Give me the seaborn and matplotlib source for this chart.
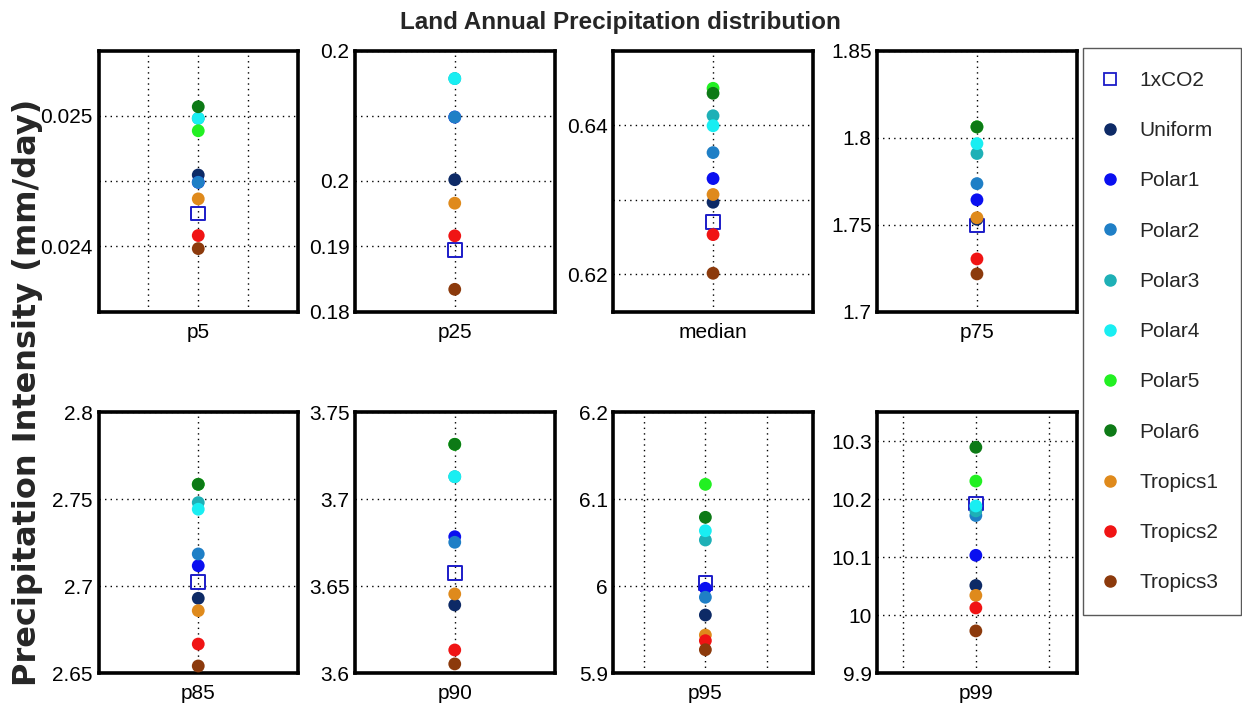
import numpy as np
import pandas as pd
import matplotlib.pyplot as plt
from matplotlib.lines import Line2D
import seaborn as sns

# data ------------------------------------------------
stats = ["p5", "p25", "median", "p75", "p85", "p90", "p95", "p99"]
scenarios = ["1xCO2", "Uniform", "Polar1", "Polar2", "Polar3", "Polar4",
             "Polar5", "Polar6", "Tropics1", "Tropics2", "Tropics3"]

co2      = [0.02425, 0.1894, 0.6270, 1.7495, 2.7026, 3.6575, 6.0038, 10.193]
uniform  = [0.024546, 0.2002, 0.62965, 1.7530, 2.6931, 3.6393, 5.967, 10.0514]
polar1   = [0.02449, 0.2098, 0.63283, 1.7642, 2.7118, 3.6785, 5.9977, 10.1034]
polar2   = [0.02449, 0.2098, 0.63631, 1.7735, 2.7186, 3.6753, 5.9874, 10.172]
polar3   = [0.02498, 0.2157, 0.64125, 1.7908, 2.7481, 3.7130, 6.0532, 10.180]
polar4   = [0.02498, 0.2157, 0.63991, 1.7965, 2.7443, 3.7130, 6.0639, 10.1885]
polar5   = [0.024885, 0.2260, 0.64493, 1.8061, 2.7586, 3.7316, 6.1172, 10.2314]
polar6   = [0.025069, 0.2275, 0.64426, 1.8061, 2.7586, 3.7316, 6.0793, 10.2897]
tropics1 = [0.024363, 0.1966, 0.63069, 1.7539, 2.6860, 3.6456, 5.944, 10.0343]
tropics2 = [0.024082, 0.1916, 0.62531, 1.7302, 2.6668, 3.6134, 5.9375, 10.0127]
tropics3 = [0.023982, 0.1834, 0.62013, 1.7216, 2.6542, 3.6054, 5.9271, 9.9731]

values = [co2, uniform, polar1, polar2, polar3, polar4, polar5, polar6,
          tropics1, tropics2, tropics3]

colors = ["#1c1cc8", "#0d2a66", "#0a0ff0", "#1f7fc6", "#1eb0b6", "#19eef2",
          "#22f022", "#0d7a16", "#df8a1c", "#f01414", "#8c3a0c"]

# y axis setup per panel (as in the original figure)
ylims = [(0.0235, 0.0255), (0.18, 0.22), (0.615, 0.65), (1.7, 1.85),
         (2.65, 2.8), (3.6, 3.75), (5.9, 6.2), (9.9, 10.35)]
yticks = [[0.024, 0.0245, 0.025], [0.18, 0.19, 0.20, 0.21, 0.22],
          [0.62, 0.63, 0.64], [1.7, 1.75, 1.8, 1.85], [2.65, 2.7, 2.75, 2.8],
          [3.6, 3.65, 3.7, 3.75], [5.9, 6.0, 6.1, 6.2],
          [9.9, 10.0, 10.1, 10.2, 10.3]]
ylabels = [["0.024", "", "0.025"], ["0.18", "0.19", "0.2", "", "0.2"],
           ["0.62", "", "0.64"], ["1.7", "1.75", "1.8", "1.85"],
           ["2.65", "2.7", "2.75", "2.8"], ["3.6", "3.65", "3.7", "3.75"],
           ["5.9", "6", "6.1", "6.2"], ["9.9", "10", "10.1", "10.2", "10.3"]]
xlims = [(0, 2), (0, 2), (0, 2), (0, 2), (0, 2), (0, 2), (0.25, 1.875), (0.325, 1.69)]
xticks = [[0.5, 1, 1.5], [1], [1], [1], [1], [1], [0.5, 1, 1.5], [0.5, 1, 1.5]]

rows = []
for j, sc in enumerate(scenarios):
    for i, st in enumerate(stats):
        rows.append({"stat": st, "scenario": sc, "value": values[j][i], "x": 1})
df = pd.DataFrame(rows)
palette = dict(zip(scenarios, colors))

# style ------------------------------------------------
sns.set_style("white")
narrow = ["Liberation Sans Narrow", "Liberation Sans", "DejaVu Sans"]
plt.rcParams["font.family"] = narrow

fig = plt.figure(figsize=(12.42, 7.23), dpi=100)
W, H = 1242, 723
col_left = [98.5, 355, 613.3, 877.2]
row_bottom = [311.5, 673.3]
aw, ah = 199.5, 261

for k, st in enumerate(stats):
    r, c = divmod(k, 4)
    ax = fig.add_axes([col_left[c] / W, 1 - row_bottom[r] / H, aw / W, ah / H])
    sub = df[df["stat"] == st]
    sns.scatterplot(data=sub[sub["scenario"] == "1xCO2"], x="x", y="value",
                    marker="s", s=95, facecolor="none", edgecolor=colors[0],
                    linewidth=1.4, legend=False, ax=ax, zorder=3)
    sns.scatterplot(data=sub[sub["scenario"] != "1xCO2"], x="x", y="value",
                    hue="scenario", palette=palette, s=85, linewidth=0,
                    legend=False, ax=ax, zorder=4)
    ax.set_xlim(xlims[k])
    ax.set_ylim(ylims[k])
    ax.set_xticks(xticks[k])
    ax.set_xticklabels([st if t == 1 else "" for t in xticks[k]])
    ax.set_yticks(yticks[k])
    ax.set_yticklabels(ylabels[k])
    ax.set_xlabel("")
    ax.set_ylabel("")
    ax.set_axisbelow(True)
    ax.grid(True, linestyle=(0, (1, 3)), color="k", linewidth=1.0)
    ax.tick_params(direction="in", length=4, width=1, labelsize=15, colors="k")
    ax.tick_params(axis="x", pad=8)
    ax.tick_params(axis="y", pad=4)
    for sp in ax.spines.values():
        sp.set_linewidth(2.6)
        sp.set_color("k")

# legend ------------------------------------------------
handles = [Line2D([], [], linestyle="none", marker="s", markersize=9,
                  markerfacecolor="none", markeredgecolor=colors[0], markeredgewidth=1.3)]
for col in colors[1:]:
    handles.append(Line2D([], [], linestyle="none", marker="o", markersize=8,
                          markerfacecolor=col, markeredgecolor=col))
leg = fig.legend(handles, scenarios, loc="upper left",
                 bbox_to_anchor=(1083 / W, 1 - 48 / H), bbox_transform=fig.transFigure,
                 borderaxespad=0, frameon=True, fancybox=False, framealpha=1,
                 edgecolor="0.35", prop={"family": narrow, "size": 15},
                 labelspacing=1.5, handlelength=0.4, handletextpad=1.2,
                 borderpad=1.1)
leg.get_frame().set_linewidth(1.0)

fig.text(620 / W, 1 - 22 / H, "Land Annual Precipitation distribution",
         ha="center", va="center", fontsize=17.5, fontweight="bold", family=narrow)
fig.text(28 / W, 1 - 392 / H, "Precipitation Intensity (mm/day)", rotation=90,
         ha="center", va="center", fontsize=23, fontweight="bold",
         family=["DejaVu Sans"])

plt.savefig("out.png", dpi=100)
